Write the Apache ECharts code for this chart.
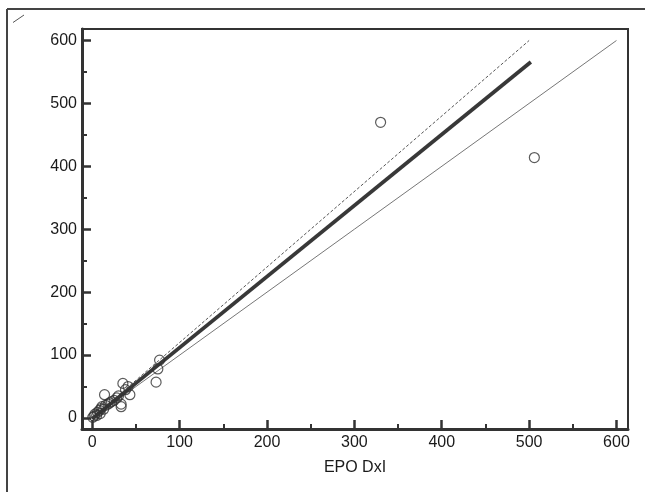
<!DOCTYPE html>
<html>
<head>
<meta charset="utf-8">
<script src="https://cdn.jsdelivr.net/npm/echarts@6/dist/echarts.min.js"></script>
<style>html,body{margin:0;padding:0;background:#fff}#c{width:645px;height:492px}</style>
</head>
<body>
<div id="c"></div>
<script>
// Data
var xValues = [0.5, 2, 3, 5, 6, 8, 9, 10, 11, 13, 14, 15, 18, 20, 22, 25, 28, 30, 33, 33, 35, 38, 41, 43, 73, 75, 77, 330, 506];
var yValues = [1, 3, 6, 4, 9, 12, 7, 15, 18, 14, 37, 20, 22, 24, 26, 28, 32, 35, 22, 18, 55, 45, 50, 37, 57, 78, 92, 470, 414];
var regressionLine = [[0, -1], [502, 566]];
var upperLine = [[0, 0], [500, 600]];
var identityLine = [[0, 0], [600, 600]];
var majorTicks = [0, 100, 200, 300, 400, 500, 600];
var minorTicks = [50, 150, 250, 350, 450, 550];
var xTitle = 'EPO DxI';

var points = xValues.map(function (x, i) { return [x, yValues[i]]; });
var FONT = '"Liberation Sans", Arial, sans-serif';
var gridRect = { left: 82, right: 17, top: 29, bottom: 63 };
var xr = { min: -11.8, max: 613.2 };
var yr = { min: -17.5, max: 618.3 };

function majorAxis(isX) {
  var r = isX ? xr : yr;
  var o = {
    type: 'value', gridIndex: 0, min: r.min, max: r.max,
    position: isX ? 'bottom' : 'left',
    splitLine: { show: false },
    axisLine: { show: true, onZero: false, lineStyle: { color: '#333', width: 3 } },
    axisTick: { show: true, inside: true, length: 9, customValues: majorTicks, lineStyle: { color: '#333', width: 2.5 } },
    axisLabel: { show: true, customValues: majorTicks, color: '#1a1a1a', fontSize: 16, fontFamily: FONT, margin: isX ? 6 : 5 }
  };
  if (isX) {
    o.name = xTitle; o.nameLocation = 'middle'; o.nameGap = 31;
    o.nameTextStyle = { color: '#1a1a1a', fontSize: 16, fontFamily: FONT };
  }
  return o;
}
function minorAxis(isX) {
  var r = isX ? xr : yr;
  return {
    type: 'value', gridIndex: 1, min: r.min, max: r.max,
    position: isX ? 'bottom' : 'left',
    splitLine: { show: false },
    axisLine: { show: false, onZero: false },
    axisTick: { show: true, inside: true, length: 5, customValues: minorTicks, lineStyle: { color: '#333', width: 2 } },
    axisLabel: { show: false }
  };
}

var chart = echarts.init(document.getElementById('c'), null, { renderer: 'canvas' });
chart.setOption({
  animation: false,
  backgroundColor: '#fff',
  grid: [
    Object.assign({ show: true, borderColor: '#333', borderWidth: 2, backgroundColor: 'transparent' }, gridRect),
    Object.assign({ show: false }, gridRect)
  ],
  xAxis: [majorAxis(true), minorAxis(true)],
  yAxis: [majorAxis(false), minorAxis(false)],
  graphic: [
    { type: 'line', shape: { x1: 7, y1: 9, x2: 645, y2: 9 }, style: { stroke: '#444', lineWidth: 2 } },
    { type: 'line', shape: { x1: 7, y1: 9, x2: 7, y2: 492 }, style: { stroke: '#444', lineWidth: 2 } },
    { type: 'line', shape: { x1: 13, y1: 22.5, x2: 24, y2: 15 }, style: { stroke: '#555', lineWidth: 1 } }
  ],
  series: [
    { type: 'line', data: identityLine, showSymbol: false, silent: true,
      lineStyle: { color: '#777', width: 1 }, z: 2 },
    { type: 'line', data: upperLine, showSymbol: false, silent: true,
      lineStyle: { color: '#555', width: 1, type: [3, 2] }, z: 2 },
    { type: 'line', data: regressionLine, showSymbol: false, silent: true,
      lineStyle: { color: '#383838', width: 3.8 }, z: 3 },
    { type: 'scatter', data: points, symbol: 'circle', symbolSize: 10,
      itemStyle: { color: 'rgba(255,255,255,0)', borderColor: '#333', borderWidth: 1.2 }, z: 4 }
  ]
});
</script>
</body>
</html>
